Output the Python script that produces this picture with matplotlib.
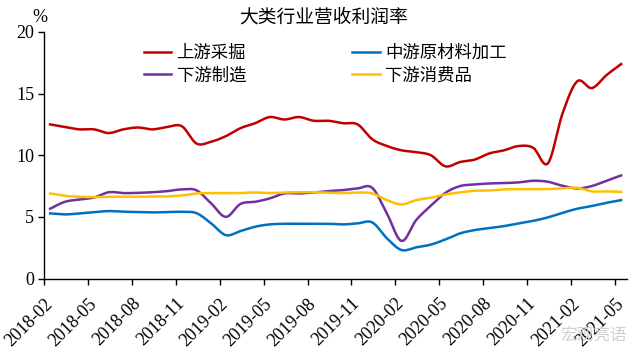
import numpy as np
import matplotlib
matplotlib.use("Agg")
import matplotlib.pyplot as plt

plt.rcParams['font.family'] = ['Liberation Serif', 'Noto Sans CJK SC']

# 月份 2018-02 ~ 2021-05
meses = ["2018-02", "2018-03", "2018-04", "2018-05", "2018-06", "2018-07", "2018-08",
         "2018-09", "2018-10", "2018-11", "2018-12", "2019-01", "2019-02", "2019-03",
         "2019-04", "2019-05", "2019-06", "2019-07", "2019-08", "2019-09", "2019-10",
         "2019-11", "2019-12", "2020-01", "2020-02", "2020-03", "2020-04", "2020-05",
         "2020-06", "2020-07", "2020-08", "2020-09", "2020-10", "2020-11", "2020-12",
         "2021-01", "2021-02", "2021-03", "2021-04", "2021-05"]

shangyou = [12.5, 12.3, 12.1, 12.1, 11.8, 12.1, 12.25, 12.1, 12.3, 12.35,
            10.95, 11.1, 11.55, 12.2, 12.6, 13.1, 12.9, 13.1, 12.8, 12.8,
            12.6, 12.5, 11.3, 10.75, 10.4, 10.25, 10.0, 9.1, 9.45, 9.65,
            10.15, 10.4, 10.75, 10.6, 9.35, 13.4, 16.0, 15.45, 16.5, 17.4]

zhongyou = [5.28, 5.2, 5.28, 5.39, 5.47, 5.42, 5.39, 5.36, 5.39, 5.41,
            5.3, 4.47, 3.52, 3.85, 4.2, 4.39, 4.44, 4.44, 4.44, 4.44,
            4.39, 4.47, 4.55, 3.26, 2.31, 2.53, 2.75, 3.17, 3.66, 3.93,
            4.09, 4.25, 4.47, 4.68, 4.96, 5.33, 5.66, 5.88, 6.14, 6.36]

xiayou_zz = [5.66, 6.22, 6.41, 6.57, 7.0, 6.93, 6.95, 7.0, 7.09, 7.23,
             7.15, 6.09, 5.0, 6.05, 6.22, 6.5, 6.9, 6.9, 6.98, 7.09,
             7.17, 7.31, 7.35, 5.28, 3.05, 4.74, 5.9, 6.95, 7.5, 7.63,
             7.71, 7.74, 7.8, 7.93, 7.85, 7.52, 7.31, 7.5, 7.93, 8.36]

xiayou_xf = [6.9, 6.71, 6.63, 6.6, 6.63, 6.63, 6.63, 6.66, 6.66, 6.74,
             6.9, 6.93, 6.93, 6.93, 6.98, 6.93, 6.98, 7.0, 7.0, 6.96,
             6.93, 6.98, 6.9, 6.36, 6.01, 6.36, 6.55, 6.82, 6.98, 7.12,
             7.14, 7.23, 7.25, 7.25, 7.25, 7.31, 7.36, 7.07, 7.07, 7.03]

series = [
    ("上游采掘", shangyou, "#C00000"),
    ("下游制造", xiayou_zz, "#7030A0"),
    ("中游原材料加工", zhongyou, "#0070C0"),
    ("下游消费品", xiayou_xf, "#FFC000"),
]


# Suavização no estilo do Excel (Bezier tipo Catmull-Rom)
def suavizar(x, y, n=20):
    x = np.asarray(x, float)
    y = np.asarray(y, float)
    xs, ys = [], []
    for i in range(len(x) - 1):
        i0 = max(i - 1, 0)
        i3 = min(i + 2, len(x) - 1)
        p0 = np.array([x[i0], y[i0]])
        p1 = np.array([x[i], y[i]])
        p2 = np.array([x[i + 1], y[i + 1]])
        p3 = np.array([x[i3], y[i3]])
        c1 = p1 + (p2 - p0) / 6
        c2 = p2 - (p3 - p1) / 6
        t = np.linspace(0, 1, n, endpoint=False)[:, None]
        pts = ((1 - t) ** 3) * p1 + 3 * ((1 - t) ** 2) * t * c1 + 3 * (1 - t) * t ** 2 * c2 + t ** 3 * p2
        xs.append(pts[:, 0])
        ys.append(pts[:, 1])
    xs.append([x[-1]])
    ys.append([y[-1]])
    return np.concatenate(xs), np.concatenate(ys)


fig = plt.figure(figsize=(6.43, 3.57), dpi=100)
ax = fig.add_axes([44 / 643, 78.5 / 357, (627 - 44) / 643, (278.5 - 32) / 357])

x = np.arange(len(meses))
for nome, valores, cor in series:
    xs, ys = suavizar(x, valores)
    ax.plot(xs, ys, color=cor, lw=1.8, label=nome)

ax.set_ylim(0, 20)
ax.set_yticks([0, 5, 10, 15, 20])
ax.set_xlim(-0.42, 39.4)
pos = [i - 0.42 for i in range(0, len(meses), 3)]
ax.set_xticks(pos)
ax.set_xticklabels(meses[::3], rotation=45, ha="right", va="top", rotation_mode="anchor")

for s in ["top", "right"]:
    ax.spines[s].set_visible(False)
for s in ["left", "bottom"]:
    ax.spines[s].set_linewidth(1.0)
ax.tick_params(axis="both", direction="out", length=4, width=1.0, labelsize=13)
ax.tick_params(axis="x", pad=8)
ax.tick_params(axis="y", pad=3)

ax.legend(ncol=2, frameon=False, loc="upper left",
          bbox_to_anchor=(0.15, 1.0), handlelength=1.6, handletextpad=0.3,
          columnspacing=6.1, labelspacing=0.25, borderaxespad=0.3,
          prop={'family': ['Noto Sans CJK SC'], 'size': 12.5})

fig.text(324 / 643, 1 - 17 / 357, "大类行业营收利润率", ha="center", va="center",
         fontsize=13.5, family=["Noto Sans CJK SC"])
fig.text(40 / 643, 1 - 17 / 357, "%", ha="center", va="center", fontsize=13)
fig.text(0.975, 0.06, "宏观亮语", ha="right", va="center", fontsize=12,
         color="#d0d0d0", family=["Noto Sans CJK SC"])

fig.savefig("out.png", dpi=100)
